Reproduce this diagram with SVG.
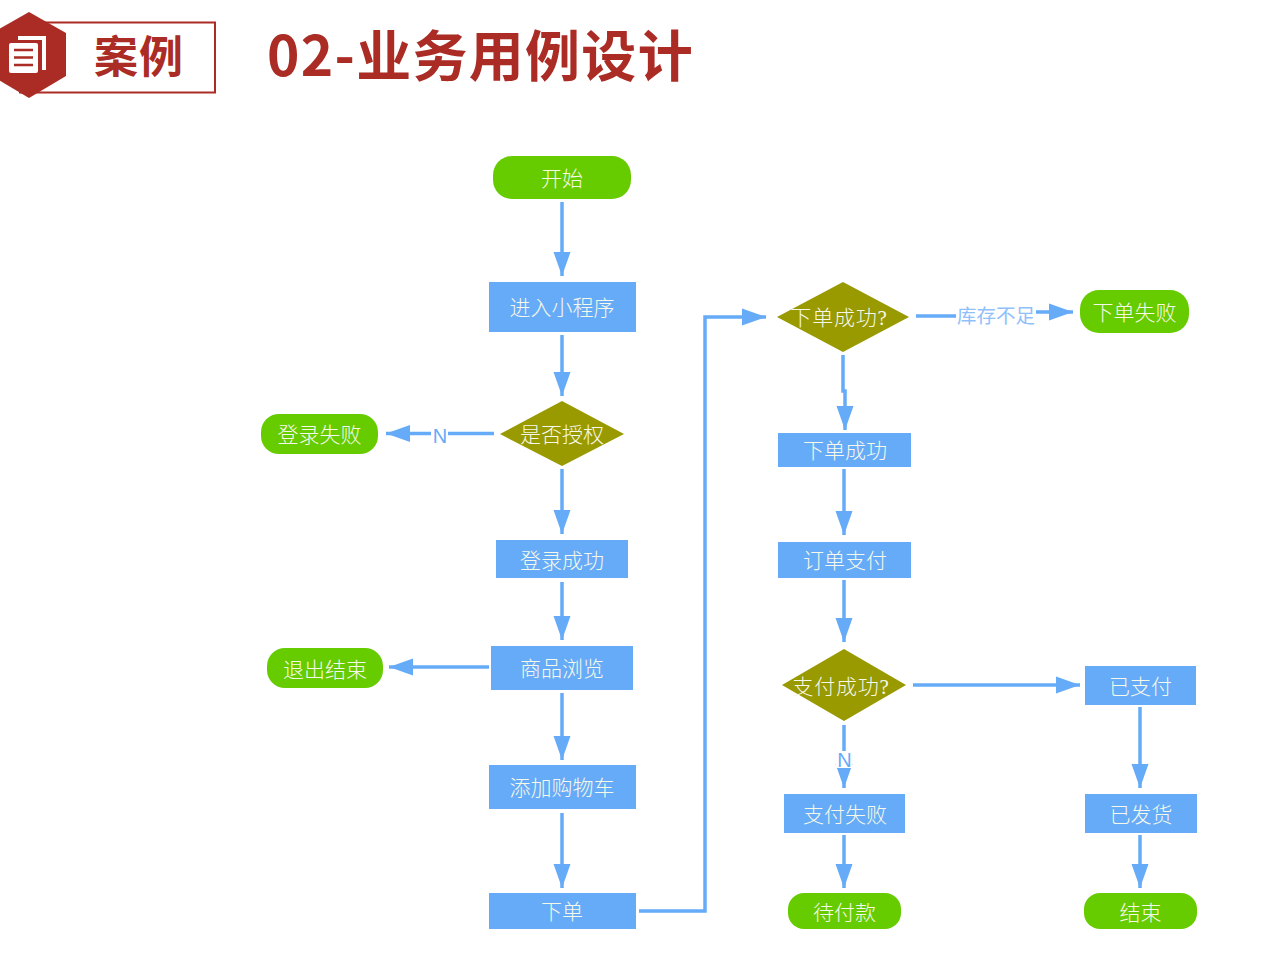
<svg xmlns="http://www.w3.org/2000/svg" width="1272" height="966" viewBox="0 0 1272 966">
<style>
.t{font-family:"Liberation Serif","Noto Sans CJK SC",serif;font-size:21px;fill:#f6f8ea;text-anchor:middle;font-weight:300}
.q{letter-spacing:0.800px}
.g{fill:#66cc00}.b{fill:#66abf7}.o{fill:#999900}
.c{fill:none;stroke:#66abf7;stroke-width:3.500;marker-end:url(#a)}
.l{font-family:"Liberation Serif","Noto Sans CJK SC",serif;font-size:19.500px;fill:#8fc0fa;text-anchor:middle}
.n{font-family:"Liberation Sans",sans-serif;font-size:20px;fill:#66abf7;text-anchor:middle}
.h{font-family:"Noto Sans CJK SC",sans-serif;font-weight:700;fill:#ab2b25}
</style>
<defs>
<marker id="a" markerUnits="userSpaceOnUse" markerWidth="26" markerHeight="20" viewBox="0 0 26 20" refX="24" refY="10" orient="auto">
<path d="M0 1.500 L24 10 L0 18.500 Z" fill="#66abf7"/>
</marker>
</defs>
<rect width="1272" height="966" fill="#fff"/>
<g id="header">
<rect x="20" y="22.500" width="195" height="70" fill="#fff" stroke="#ab2b25" stroke-width="2"/>
<path d="M29 12 L66 33 V76 L29 98 L-8 76 V33 Z" fill="#ab2b25"/>
<path d="M18 36 H46 V70 H42 V40 H18 Z" fill="#fff"/>
<rect x="9" y="43" width="29" height="30" rx="2" fill="#fff"/>
<path d="M14 50 H33 M14 57.500 H33 M14 65 H33" stroke="#ab2b25" stroke-width="2.500"/>
<text class="h" x="94" y="73" font-size="44" letter-spacing="1">案例</text>
<text class="h" x="267" y="76" font-size="55" letter-spacing="1.300">02-业务用例设计</text>
</g>
<g id="connectors">
<path class="c" d="M562 202V276"/>
<path class="c" d="M562 335V396"/>
<path class="c" d="M562 469V534"/>
<path class="c" d="M562 582V640"/>
<path class="c" d="M562 693V760"/>
<path class="c" d="M562 813V888"/>
<path class="c" d="M639 911H705V317H766"/>
<path class="c" d="M494 433.500H386"/>
<path class="c" d="M489 667H389"/>
<path class="c" d="M843 355V391H845V430"/>
<path class="c" d="M844 469V535"/>
<path class="c" d="M844 580V642"/>
<path class="c" d="M913 685H1080"/>
<path class="c" d="M844 725V788"/>
<path class="c" d="M1140 707V788"/>
<path class="c" d="M844 835V888"/>
<path class="c" d="M1140 835V888"/>
<path class="c" d="M916 316H1000V312H1073"/>
<rect x="431" y="425" width="17" height="18" fill="#fff"/>
<text class="n" x="440" y="443">N</text>
<rect x="956" y="304" width="80" height="24" fill="#fff"/>
<text class="l" x="996" y="323">库存不足</text>
<rect x="836" y="751" width="16" height="17" fill="#fff"/>
<text class="n" x="844.500" y="767">N</text>
</g>
<g id="n-start"><rect class="g" x="493" y="156" width="138" height="43" rx="19"/><text class="t" x="562" y="186">开始</text></g>
<g id="n-enter"><rect class="b" x="489" y="282" width="147" height="50"/><text class="t" x="562" y="315">进入小程序</text></g>
<g id="n-auth"><polygon class="o" points="500,434 562,401 624,434 562,466"/><text class="t" x="562" y="442">是否授权</text></g>
<g id="n-loginfail"><rect class="g" x="261" y="414" width="117" height="40" rx="18"/><text class="t" x="319.500" y="442">登录失败</text></g>
<g id="n-loginok"><rect class="b" x="496" y="540" width="132" height="38"/><text class="t" x="562" y="568">登录成功</text></g>
<g id="n-browse"><rect class="b" x="491" y="646" width="142" height="44"/><text class="t" x="562" y="676">商品浏览</text></g>
<g id="n-exit"><rect class="g" x="267" y="648" width="116" height="40" rx="18"/><text class="t" x="325" y="677">退出结束</text></g>
<g id="n-cart"><rect class="b" x="489" y="765" width="147" height="44"/><text class="t" x="562" y="795">添加购物车</text></g>
<g id="n-order"><rect class="b" x="489" y="893" width="147" height="36"/><text class="t" x="562" y="919">下单</text></g>
<g id="n-orderq"><polygon class="o" points="777,317 843,282 909,317 843,352"/><text class="t q" x="839" y="325">下单成功?</text></g>
<g id="n-orderfail"><rect class="g" x="1080" y="290" width="109" height="43" rx="19"/><text class="t" x="1134.500" y="320">下单失败</text></g>
<g id="n-orderok"><rect class="b" x="778" y="433" width="133" height="34"/><text class="t" x="845" y="458">下单成功</text></g>
<g id="n-pay"><rect class="b" x="778" y="542" width="133" height="36"/><text class="t" x="845" y="568">订单支付</text></g>
<g id="n-payq"><polygon class="o" points="782,685 844,649 906,685 844,721"/><text class="t q" x="841" y="694">支付成功?</text></g>
<g id="n-paid"><rect class="b" x="1085" y="666" width="111" height="39"/><text class="t" x="1140.500" y="694">已支付</text></g>
<g id="n-payfail"><rect class="b" x="784" y="794" width="121" height="39"/><text class="t" x="845" y="822">支付失败</text></g>
<g id="n-shipped"><rect class="b" x="1085" y="794" width="112" height="39"/><text class="t" x="1141" y="822">已发货</text></g>
<g id="n-wait"><rect class="g" x="788" y="893" width="113" height="36" rx="16"/><text class="t" x="844.500" y="920">待付款</text></g>
<g id="n-end"><rect class="g" x="1084" y="893" width="113" height="36" rx="16"/><text class="t" x="1140.500" y="920">结束</text></g>
</svg>
